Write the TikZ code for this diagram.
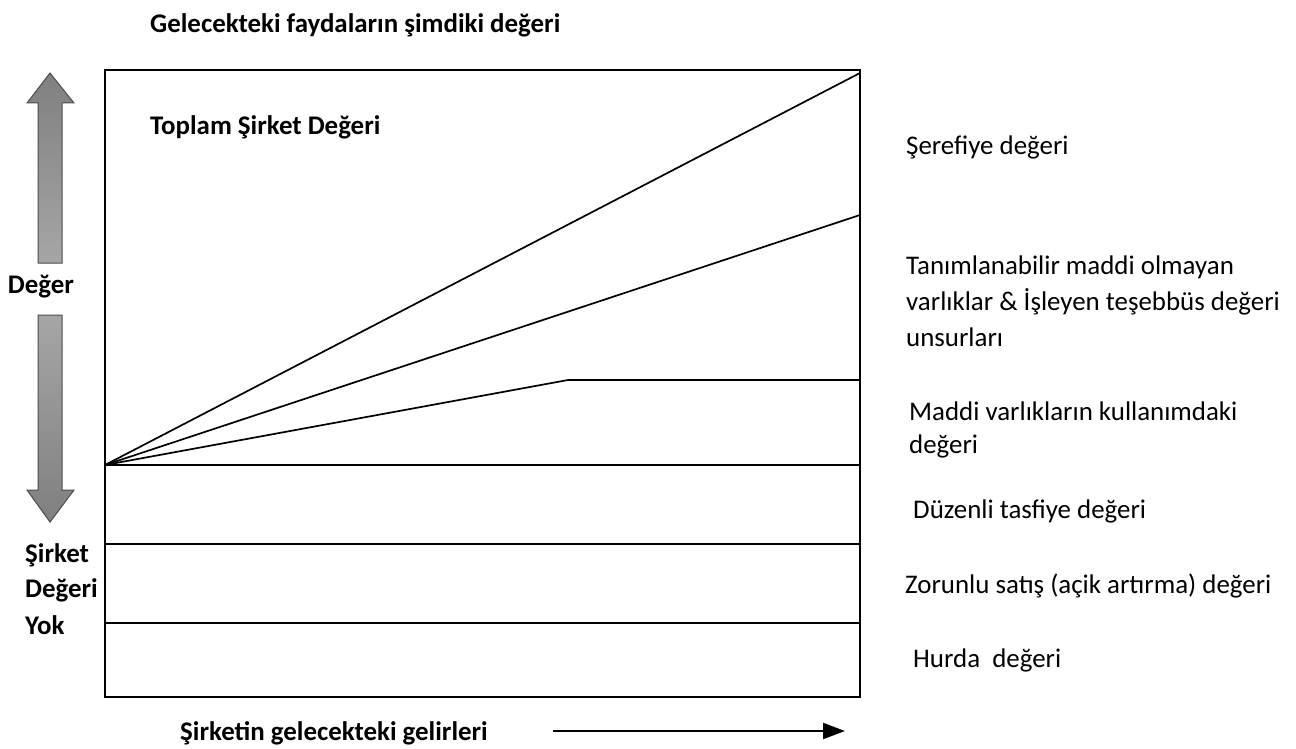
\documentclass[tikz,border=0pt]{standalone}
\usepackage{fontspec}
\setmainfont{Carlito}
\usetikzlibrary{arrows.meta}
\tikzset{
  lbl/.style={anchor=west, inner sep=0pt, font=\fontsize{26.9}{32}\selectfont},
  blbl/.style={lbl, font=\fontsize{26.9}{32}\selectfont\bfseries},
  gline/.style={line width=1.7pt, black},
  bigarrow/.style={draw=black!70, line width=1pt},
}
\begin{document}
\begin{tikzpicture}[x=1pt, y=-1pt]
\useasboundingbox (0,0) rectangle (1296,749);
% frame
\draw[line width=2.4pt] (105,70) rectangle (860,697);
\coordinate (o) at (105,465);
\coordinate (t1) at (860,73);
\coordinate (t2) at (860,215);
\coordinate (k) at (568,380);
\coordinate (t3) at (860,380);
\coordinate (t4) at (860,465);
\coordinate (a5) at (105,544);
\coordinate (t5) at (860,544);
\coordinate (a6) at (105,623);
\coordinate (t6) at (860,623);
\draw[gline] (o) -- (t1);
\draw[gline] (o) -- (t2);
\draw[gline] (o) -- (k) -- (t3);
\draw[gline] (o) -- (t4);
\draw[gline] (a5) -- (t5);
\draw[gline] (a6) -- (t6);
% left arrows
\path[bigarrow, top color=black!50, bottom color=black!35]
  (50,73) -- (74,103) -- (62,103) -- (62,263) -- (38,263) -- (38,103) -- (27,103) -- cycle;
\path[bigarrow, top color=black!35, bottom color=black!50]
  (38,315) -- (62,315) -- (62,490) -- (74,490) -- (50,522) -- (27,490) -- (38,490) -- cycle;
% texts
\node[blbl] (title) at (150,25) {Gelecekteki faydaların şimdiki değeri};
\node[blbl] (top) at (150,127) {Toplam Şirket Değeri};
\node[blbl, anchor=center] (deger) at (41,287) {Değer};
\node[blbl] (yok1) at (25,555) {Şirket};
\node[blbl] (yok2) at (25,590) {Değeri};
\node[blbl] (yok3) at (25,625) {Yok};
\node[blbl] (xlab) at (180,733) {Şirketin gelecekteki gelirleri};
\coordinate (xs) at (553,731);
\coordinate (xe) at (845,731);
\draw[line width=2.2pt, -{Triangle[length=22pt, width=16pt]}] (xs) -- (xe);
\node[lbl] (r1) at (906,147) {Şerefiye değeri};
\node[lbl] (r2a) at (906,267) {Tanımlanabilir maddi olmayan};
\node[lbl] (r2b) at (906,302) {varlıklar \& İşleyen teşebbüs değeri};
\node[lbl] (r2c) at (906,337) {unsurları};
\node[lbl] (r3a) at (909,411) {Maddi varlıkların kullanımdaki};
\node[lbl] (r3b) at (909,446) {değeri};
\node[lbl] (r4) at (913,511) {Düzenli tasfiye değeri};
\node[lbl] (r5) at (905,586) {Zorunlu satış (açik artırma) değeri};
\node[lbl] (r6) at (913,660) {Hurda\ \ değeri};
\end{tikzpicture}
\end{document}
